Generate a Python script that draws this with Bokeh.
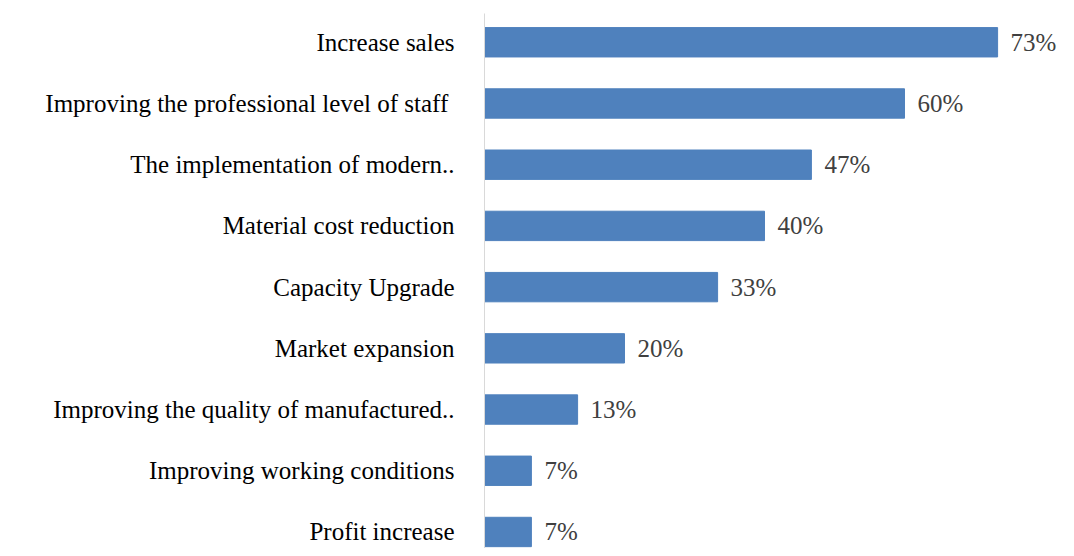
from bokeh.plotting import figure
from bokeh.models import ColumnDataSource, Range1d, FixedTicker
from bokeh.embed import file_html
from bokeh.resources import INLINE
from bokeh.core.properties import value

categories = [
    "Increase sales",
    "Improving the professional level  of staff",
    "The implementation of modern..",
    "Material cost reduction",
    "Capacity Upgrade",
    "Market expansion",
    "Improving the quality of manufactured..",
    "Improving working conditions",
    "Profit increase",
]
values = [73.3, 60.0, 46.7, 40.0, 33.3, 20.0, 13.3, 6.7, 6.7]
labels = ["%d%%" % round(v) for v in values]

n = len(categories)
ypos = [n - 1 - i for i in range(n)]

src = ColumnDataSource(dict(y=ypos, v=values, lab=labels))

# frame: x 484..1058 (574 px, 7.0 px per %), y 13..548
p = figure(width=1058, height=548, output_backend="svg", toolbar_location=None,
           x_range=Range1d(0, 82.0), y_range=Range1d(-0.27, 8.47),
           x_axis_location=None, min_border_left=484, min_border_right=0,
           min_border_top=13, min_border_bottom=0)
p.outline_line_color = None
p.grid.visible = False
p.background_fill_color = "white"
p.border_fill_color = "white"

p.hbar(y="y", right="v", left=0, height=0.48, source=src,
       fill_color="#4f81bd", line_color="#4f81bd")
p.text(x="v", y="y", text="lab", source=src, x_offset=13,
       text_baseline="middle", text_align="left",
       text_font=value("Liberation Serif"), text_font_size="25px",
       text_color="#404040")

ax = p.yaxis[0]
ax.ticker = FixedTicker(ticks=ypos)
ax.major_label_overrides = {y: c for y, c in zip(ypos, categories)}
ax.axis_line_color = "#d9d9d9"
ax.axis_line_width = 1
ax.major_tick_line_color = None
ax.minor_tick_line_color = None
ax.major_label_standoff = 24
ax.major_label_text_font = "Liberation Serif"
ax.major_label_text_font_size = "25px"
ax.major_label_text_color = "black"

open("out.html", "w").write(file_html(p, INLINE))
